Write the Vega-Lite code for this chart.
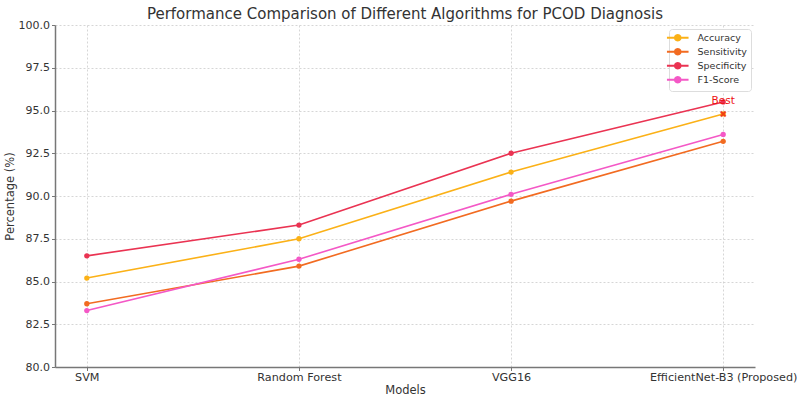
{
  "$schema": "https://vega.github.io/schema/vega-lite/v6.json",
  "width": 700,
  "height": 342,
  "autosize": {"type": "none"},
  "padding": {"left": 55, "top": 25, "right": 42, "bottom": 29},
  "background": "white",
  "config": {
    "font": "DejaVu Sans",
    "view": {"stroke": null},
    "axis": {
      "labelFont": "DejaVu Sans",
      "titleFont": "DejaVu Sans",
      "labelFontSize": 11,
      "titleFontSize": 11.5,
      "labelColor": "#333333",
      "titleColor": "#333333",
      "titleFontWeight": "normal",
      "domainColor": "#777777",
      "domainWidth": 1.5,
      "tickColor": "#777777",
      "tickSize": 3.5,
      "gridColor": "#cccccc",
      "gridDash": [2, 2],
      "gridWidth": 0.8
    }
  },
  "title": {
    "text": "Performance Comparison of Different Algorithms for PCOD Diagnosis",
    "font": "DejaVu Sans",
    "fontSize": 15,
    "fontWeight": "normal",
    "color": "#333333",
    "offset": -3
  },
  "datasets": {
    "scores": [
      {"model": "SVM", "metric": "Accuracy", "value": 85.2},
      {"model": "Random Forest", "metric": "Accuracy", "value": 87.5},
      {"model": "VGG16", "metric": "Accuracy", "value": 91.4},
      {"model": "EfficientNet-B3 (Proposed)", "metric": "Accuracy", "value": 94.8},
      {"model": "SVM", "metric": "Sensitivity", "value": 83.7},
      {"model": "Random Forest", "metric": "Sensitivity", "value": 85.9},
      {"model": "VGG16", "metric": "Sensitivity", "value": 89.7},
      {"model": "EfficientNet-B3 (Proposed)", "metric": "Sensitivity", "value": 93.2},
      {"model": "SVM", "metric": "Specificity", "value": 86.5},
      {"model": "Random Forest", "metric": "Specificity", "value": 88.3},
      {"model": "VGG16", "metric": "Specificity", "value": 92.5},
      {"model": "EfficientNet-B3 (Proposed)", "metric": "Specificity", "value": 95.5},
      {"model": "SVM", "metric": "F1-Score", "value": 83.3},
      {"model": "Random Forest", "metric": "F1-Score", "value": 86.3},
      {"model": "VGG16", "metric": "F1-Score", "value": 90.1},
      {"model": "EfficientNet-B3 (Proposed)", "metric": "F1-Score", "value": 93.6}
    ],
    "best": [
      {"model": "EfficientNet-B3 (Proposed)", "value": 94.8, "label": "Best", "labelValue": 95.55}
    ]
  },
  "layer": [
    {
      "data": {"name": "scores"},
      "mark": {"type": "line", "strokeWidth": 1.6, "point": {"size": 28, "filled": true, "opacity": 1}},
      "encoding": {
        "x": {
          "field": "model",
          "type": "ordinal",
          "sort": ["SVM", "Random Forest", "VGG16", "EfficientNet-B3 (Proposed)"],
          "scale": {"type": "point", "padding": 0.15},
          "axis": {"title": "Models", "labelAngle": 0, "labelFontSize": 11.2, "grid": true, "titlePadding": 2, "labelPadding": 1}
        },
        "y": {
          "field": "value",
          "type": "quantitative",
          "scale": {"domain": [80, 100], "nice": false, "zero": false},
          "axis": {"title": "Percentage (%)", "values": [80, 82.5, 85, 87.5, 90, 92.5, 95, 97.5, 100], "format": ".1f", "grid": true, "titlePadding": 3, "labelPadding": 2}
        },
        "color": {
          "field": "metric",
          "type": "nominal",
          "sort": ["Accuracy", "Sensitivity", "Specificity", "F1-Score"],
          "scale": {"domain": ["Accuracy", "Sensitivity", "Specificity", "F1-Score"], "range": ["#FBB117", "#F26B21", "#EA3352", "#F458C6"]},
          "legend": {
            "title": null,
            "orient": "top-right",
            "offset": 4,
            "fillColor": "white",
            "strokeColor": "#dddddd",
            "cornerRadius": 3,
            "padding": 4,
            "labelFont": "DejaVu Sans",
            "labelFontSize": 9.5,
            "labelColor": "#333333",
            "labelOffset": 15,
            "rowPadding": 0,
            "symbolType": "M-3.6,0H3.6M0.975,0L0.844,0.4875L0.4875,0.844L0,0.975L-0.4875,0.844L-0.844,0.4875L-0.975,0L-0.844,-0.4875L-0.4875,-0.844L0,-0.975L0.4875,-0.844L0.844,-0.4875Z",
            "symbolSize": 36,
            "symbolStrokeWidth": 1.8,
            "symbolOpacity": 1,
            "encode": {
              "symbols": {"update": {"fill": {"scale": "color", "field": "value"}, "stroke": {"scale": "color", "field": "value"}, "opacity": {"value": 1}}}
            }
          }
        },
        "detail": {"field": "metric"}
      }
    },
    {
      "data": {"name": "best"},
      "mark": {"type": "point", "shape": "M-1,-1L1,1M-1,1L1,-1", "size": 25, "strokeWidth": 2, "color": "#ee1111", "filled": false},
      "encoding": {
        "x": {"field": "model", "type": "ordinal", "sort": ["SVM", "Random Forest", "VGG16", "EfficientNet-B3 (Proposed)"]},
        "y": {"field": "value", "type": "quantitative"}
      }
    },
    {
      "data": {"name": "best"},
      "mark": {"type": "text", "color": "#ee1111", "fontSize": 10.5, "font": "DejaVu Sans", "baseline": "middle", "align": "center"},
      "encoding": {
        "x": {"field": "model", "type": "ordinal", "sort": ["SVM", "Random Forest", "VGG16", "EfficientNet-B3 (Proposed)"]},
        "y": {"field": "labelValue", "type": "quantitative"},
        "text": {"field": "label"}
      }
    }
  ]
}
